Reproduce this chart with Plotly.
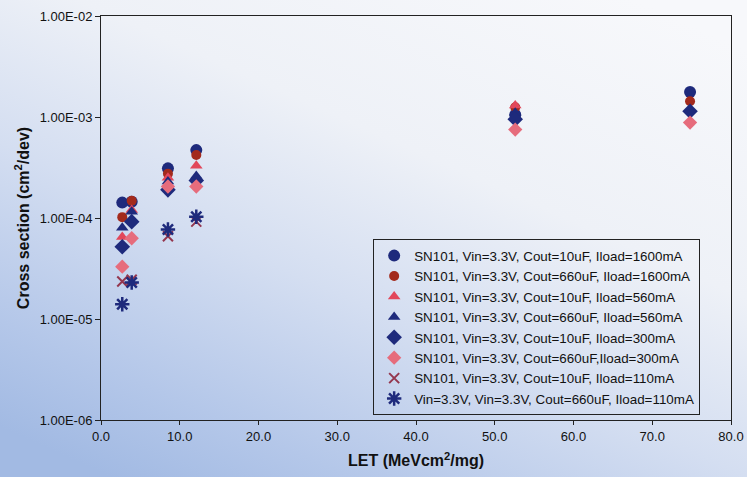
import plotly.graph_objects as go
import base64

# ---- data ----
let_x = [2.7, 3.9, 8.5, 12.1, 52.6, 74.8]

names = [
    "SN101, Vin=3.3V, Cout=10uF, Iload=1600mA",
    "SN101, Vin=3.3V, Cout=660uF, Iload=1600mA",
    "SN101, Vin=3.3V, Cout=10uF, Iload=560mA",
    "SN101, Vin=3.3V, Cout=660uF, Iload=560mA",
    "SN101, Vin=3.3V, Cout=10uF, Iload=300mA",
    "SN101, Vin=3.3V, Cout=660uF,Iload=300mA",
    "SN101, Vin=3.3V, Cout=10uF, Iload=110mA",
    "Vin=3.3V, Vin=3.3V, Cout=660uF, Iload=110mA",
]

s_10uF_1600 = [1.42e-4, 1.45e-4, 3.1e-4, 4.7e-4, 1.05e-3, 1.77e-3]
s_660uF_1600 = [1.02e-4, 1.48e-4, 2.75e-4, 4.2e-4, 1.25e-3, 1.43e-3]
s_10uF_560 = [6.5e-5, 1.2e-4, 2.5e-4, 3.3e-4, 1.3e-3, None]
s_660uF_560 = [8.0e-5, 1.15e-4, 2.3e-4, 2.6e-4, 1.1e-3, None]
s_10uF_300 = [5.2e-5, 9.2e-5, 1.9e-4, 2.35e-4, 9.5e-4, 1.14e-3]
s_660uF_300 = [3.3e-5, 6.3e-5, 2.05e-4, 2.05e-4, 7.5e-4, 8.8e-4]
s_10uF_110 = [2.35e-5, 2.45e-5, 6.6e-5, 9.2e-5, None, None]
s_660uF_110 = [1.4e-5, 2.3e-5, 7.7e-5, 1.03e-4, None, None]

series = [s_10uF_1600, s_660uF_1600, s_10uF_560, s_660uF_560,
          s_10uF_300, s_660uF_300, s_10uF_110, s_660uF_110]

x_ticks = [0, 10, 20, 30, 40, 50, 60, 70, 80]
y_ticks = [1e-6, 1e-5, 1e-4, 1e-3, 1e-2]
y_tick_text = ["1.00E-06", "1.00E-05", "1.00E-04", "1.00E-03", "1.00E-02"]

# ---- styles ----
NAVY = "#1e2a7c"
DRED = "#a32a1c"
PRED = "#e2475a"
PINK = "#e66c7c"
XRED = "#94364e"

styles = [
    dict(symbol="circle", size=12, color=NAVY),
    dict(symbol="circle", size=10, color=DRED),
    dict(symbol="triangle-up", size=11, color=PRED),
    dict(symbol="triangle-up", size=11, color=NAVY),
    dict(symbol="diamond", size=12, color=NAVY),
    dict(symbol="diamond", size=11, color=PINK),
    dict(symbol="x-thin-open", size=10, color=XRED, line=dict(width=2, color=XRED)),
    dict(symbol="asterisk-open", size=12, color=NAVY, line=dict(width=2.5, color=NAVY)),
]

fig = go.Figure()
for name, ys, st in zip(names, series, styles):
    fig.add_trace(go.Scatter(x=let_x, y=ys, mode="markers", name=name,
                             marker=st))

W, H = 747, 477
ml, mr, mt, mb = 101, 16, 16, 57
pw, ph = W - ml - mr, H - mt - mb

svg = (
    '<svg xmlns="http://www.w3.org/2000/svg" width="747" height="477" preserveAspectRatio="none">'
    '<defs><linearGradient id="g" x1="0.85" y1="0" x2="0.15" y2="1">'
    '<stop offset="0" stop-color="#f7f8fb"/>'
    '<stop offset="0.35" stop-color="#eef1f7"/>'
    '<stop offset="0.6" stop-color="#d4def1"/>'
    '<stop offset="0.85" stop-color="#b4c7e9"/>'
    '<stop offset="1" stop-color="#a2bae3"/>'
    '</linearGradient></defs>'
    '<rect width="747" height="477" fill="url(#g)"/></svg>'
)
src = "data:image/svg+xml;base64," + base64.b64encode(svg.encode()).decode()

fig.add_layout_image(dict(source=src, xref="paper", yref="paper",
                          x=-ml / pw, y=1 + mt / ph, sizex=W / pw, sizey=H / ph,
                          xanchor="left", yanchor="top", sizing="stretch",
                          layer="below"))

FONT = "Arial, 'Liberation Sans', sans-serif"
fig.update_layout(
    width=W, height=H,
    margin=dict(l=ml, r=mr, t=mt, b=mb, autoexpand=False),
    paper_bgcolor="#f2f4f9",
    plot_bgcolor="rgba(0,0,0,0)",
    font=dict(family=FONT, size=13, color="#111"),
    showlegend=True,
    legend=dict(x=0.432, y=0.447, xanchor="left", yanchor="top",
                bgcolor="rgba(0,0,0,0)", bordercolor="#222", borderwidth=1,
                font=dict(size=13.4, color="#111"), tracegroupgap=0),
    xaxis=dict(range=[0, 80], tickvals=x_ticks, tickformat=".1f",
               ticks="outside", ticklen=4, tickcolor="#222",
               showline=True, linecolor="#222", linewidth=1, mirror=True,
               showgrid=False, zeroline=False,
               title=dict(text="<b>LET (MeVcm<sup>2</sup>/mg)</b>",
                          font=dict(size=16), standoff=12)),
    yaxis=dict(type="log", range=[-6, -2], tickvals=y_ticks, ticktext=y_tick_text,
               ticks="outside", ticklen=5, tickcolor="#222",
               showline=True, linecolor="#222", linewidth=1, mirror=True,
               showgrid=False, zeroline=False,
               title=dict(text="<b>Cross section (cm<sup>2</sup>/dev)</b>",
                          font=dict(size=16), standoff=6)),
)

fig.write_html("out.html", config={"displayModeBar": False},
               post_script="document.body.style.margin='0';document.body.style.overflow='hidden';")
